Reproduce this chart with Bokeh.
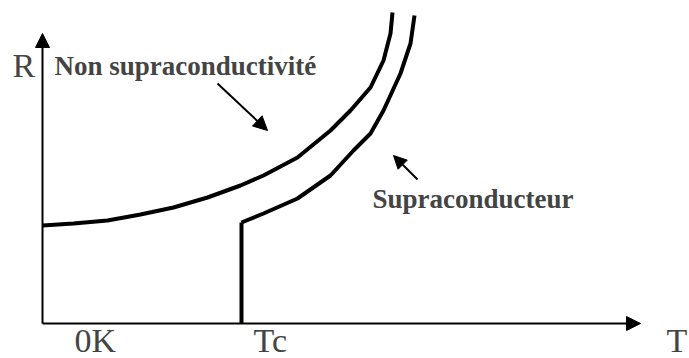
from bokeh.plotting import figure
from bokeh.models import Range1d, Arrow, NormalHead, Label
from bokeh.embed import file_html
from bokeh.resources import INLINE

# ---- data (arbitrary units: T horizontal, R vertical, origin at axis crossing) ----
normal_T = [0, 31, 65, 98, 131, 165, 198, 221, 255, 288, 308, 328, 341, 348, 350]
normal_R = [98, 100, 103, 109, 116, 126, 138, 148, 166, 193, 213, 236, 263, 290, 311]

Tc = 199
Rc = 101
super_T = [199, 221, 255, 288, 311, 328, 341, 358, 368, 372]
super_R = [101, 110, 125, 148, 173, 190, 213, 250, 280, 308]

axis_T_max = 598
axis_R_max = 290

label_R = "R"
label_T = "T"
label_0K = "0K"
label_Tc = "Tc"
label_normal = "Non supraconductivité"
label_super = "Supraconducteur"

TEXT_COLOR = "#444444"

p = figure(width=689, height=358,
           x_range=Range1d(-42, 647), y_range=Range1d(-35, 323),
           toolbar_location=None, output_backend="svg",
           x_axis_type=None, y_axis_type=None, min_border=0)
p.grid.visible = False
p.outline_line_color = None
p.background_fill_color = "white"
p.border_fill_color = "white"

# axes with arrows
p.add_layout(Arrow(end=NormalHead(size=14, fill_color="black", line_color="black", line_width=1),
                   x_start=0, y_start=0, x_end=0, y_end=axis_R_max,
                   line_width=2, line_color="black"))
p.add_layout(Arrow(end=NormalHead(size=14, fill_color="black", line_color="black", line_width=1),
                   x_start=0, y_start=0, x_end=axis_T_max, y_end=0,
                   line_width=2, line_color="black"))

# normal state curve
p.line(normal_T, normal_R, line_width=4, line_color="black", line_join="round")

# superconductor: vertical drop at Tc then curve
p.line([Tc, Tc], [0, Rc], line_width=4, line_color="black", line_cap="butt")
p.line(super_T, super_R, line_width=4, line_color="black", line_join="round")

# pointer arrows
p.add_layout(Arrow(end=NormalHead(size=14, fill_color="black", line_color="black", line_width=1),
                   x_start=175, y_start=240, x_end=225, y_end=193,
                   line_width=2, line_color="black"))
p.add_layout(Arrow(end=NormalHead(size=13, fill_color="black", line_color="black", line_width=1),
                   x_start=375, y_start=144, x_end=351, y_end=168,
                   line_width=2, line_color="black"))

def add_label(x, y, text, size, bold=False):
    p.add_layout(Label(x=x, y=y, text=text, text_font="Liberation Serif",
                       text_font_size=size, text_font_style="bold" if bold else "normal",
                       text_color=TEXT_COLOR, text_baseline="alphabetic", text_align="left"))

add_label(-30, 258, label_R, "34px")
add_label(12, 258, label_normal, "27px", bold=True)
add_label(330, 125, label_super, "27px", bold=True)
add_label(32, -17, label_0K, "34px")
add_label(211, -17, label_Tc, "34px")
add_label(624, -17, label_T, "34px")

open("out.html", "w").write(file_html(p, INLINE))
